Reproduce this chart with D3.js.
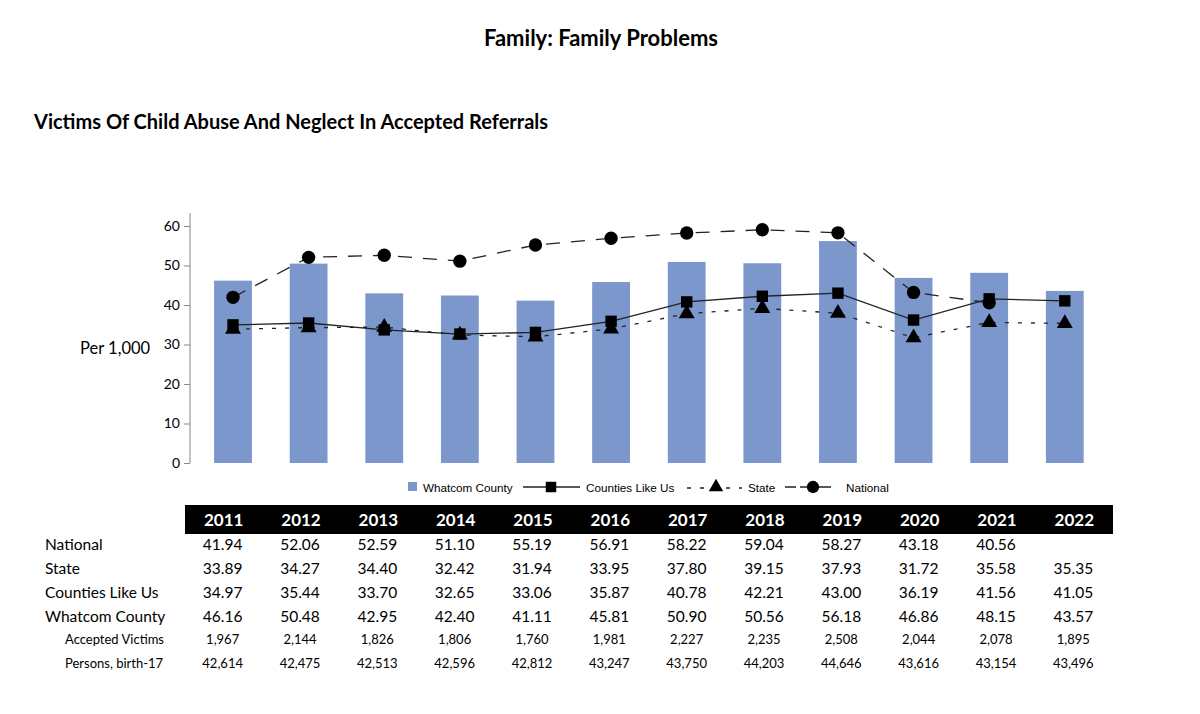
<!DOCTYPE html>
<html><head><meta charset="utf-8">
<script src="https://cdn.jsdelivr.net/npm/d3@7"></script>
<style>body{margin:0;background:#fff}svg{display:block}</style>
</head><body>
<svg id="c" width="1200" height="714"></svg>
<script>
const years = ["2011","2012","2013","2014","2015","2016","2017","2018","2019","2020","2021","2022"];
const national = [41.94,52.06,52.59,51.10,55.19,56.91,58.22,59.04,58.27,43.18,40.56,null];
const state = [33.89,34.27,34.40,32.42,31.94,33.95,37.80,39.15,37.93,31.72,35.58,35.35];
const counties = [34.97,35.44,33.70,32.65,33.06,35.87,40.78,42.21,43.00,36.19,41.56,41.05];
const whatcom = [46.16,50.48,42.95,42.40,41.11,45.81,50.90,50.56,56.18,46.86,48.15,43.57];
const accepted = ["1,967","2,144","1,826","1,806","1,760","1,981","2,227","2,235","2,508","2,044","2,078","1,895"];
const persons = ["42,614","42,475","42,513","42,596","42,812","43,247","43,750","44,203","44,646","43,616","43,154","43,496"];
const yTicks = [0,10,20,30,40,50,60];

const svg = d3.select("#c");
const font = "Lato, 'Open Sans', sans-serif";

svg.append("text").attr("x",601).attr("y",46).attr("text-anchor","middle")
  .attr("font-family",font).attr("font-weight","bold").attr("font-size",22).text("Family: Family Problems");
svg.append("text").attr("x",34).attr("y",129)
  .attr("font-family",font).attr("font-weight","bold").attr("font-size",20).text("Victims Of Child Abuse And Neglect In Accepted Referrals");

const x = d3.scaleBand().domain(years).range([195.2,1102.6]).paddingInner(0.5).paddingOuter(0.25);
const y = d3.scaleLinear().domain([0,60]).range([463,226]);

// bars
svg.append("g").selectAll("rect").data(years).join("rect")
  .attr("x",d=>x(d)).attr("width",x.bandwidth())
  .attr("y",(d,i)=>y(whatcom[i])).attr("height",(d,i)=>y(0)-y(whatcom[i]))
  .attr("fill","#7b97cc");

// y axis
const ax = svg.append("g").attr("transform","translate(190,0)")
  .call(d3.axisLeft(y).tickValues(yTicks).tickSize(6).tickSizeOuter(0).tickPadding(4));
ax.select(".domain").remove();
ax.append("line").attr("x1",0).attr("x2",0).attr("y1",213).attr("y2",463).attr("stroke","#888");
ax.selectAll(".tick line").attr("stroke","#888");
ax.selectAll(".tick text").attr("font-family",font).attr("font-size",14).attr("fill","#000");

svg.append("text").attr("x",80).attr("y",354).attr("font-family",font).attr("font-size",16.5).text("Per 1,000");

const cx = d=>x(d)+x.bandwidth()/2;
function series(vals, dash, sym, size){
  const pts = years.map((d,i)=>({d,v:vals[i]})).filter(p=>p.v!=null);
  const line = d3.line().x(p=>cx(p.d)).y(p=>y(p.v));
  svg.append("path").datum(pts).attr("d",line).attr("fill","none")
    .attr("stroke","#222").attr("stroke-width",1.3).attr("stroke-dasharray",dash);
  svg.append("g").selectAll("path").data(pts).join("path")
    .attr("transform",p=>`translate(${cx(p.d)},${y(p.v)})`)
    .attr("d",d3.symbol().type(sym).size(size)).attr("fill","#000");
}
series(state,"4,9",d3.symbolTriangle,110);
series(counties,null,d3.symbolSquare,130);
series(national,"14,11",d3.symbolCircle,140);

// legend
const lg = svg.append("g").attr("font-family","'Liberation Sans', Arial, sans-serif").attr("font-size",11.7);
lg.append("rect").attr("x",408).attr("y",482).attr("width",9).attr("height",9).attr("fill","#7b97cc");
lg.append("text").attr("x",423).attr("y",492).text("Whatcom County");
lg.append("line").attr("x1",523).attr("x2",580).attr("y1",487).attr("y2",487).attr("stroke","#222").attr("stroke-width",1.3);
lg.append("path").attr("transform","translate(551,487)").attr("d",d3.symbol().type(d3.symbolSquare).size(110)).attr("fill","#000");
lg.append("text").attr("x",586).attr("y",492).text("Counties Like Us");
lg.append("line").attr("x1",687).attr("x2",742).attr("y1",488).attr("y2",488).attr("stroke","#222").attr("stroke-width",1.3).attr("stroke-dasharray","4,9");
lg.append("path").attr("transform","translate(716,487)").attr("d",d3.symbol().type(d3.symbolTriangle).size(90)).attr("fill","#000");
lg.append("text").attr("x",748).attr("y",492).text("State");
lg.append("line").attr("x1",785).attr("x2",831).attr("y1",487).attr("y2",487).attr("stroke","#222").attr("stroke-width",1.3);
lg.append("path").attr("transform","translate(813,487)").attr("d",d3.symbol().type(d3.symbolCircle).size(120)).attr("fill","#000");
lg.append("rect").attr("x",796).attr("y",480).attr("width",4).attr("height",14).attr("fill","#fff");
lg.append("text").attr("x",846).attr("y",492).text("National");

// table
const tx = d3.scaleBand().domain(years).range([185,1113]);
const tcx = d=>tx(d)+tx.bandwidth()/2;
svg.append("rect").attr("x",185).attr("y",505).attr("width",928).attr("height",29).attr("fill","#000");
svg.append("g").selectAll("text").data(years).join("text")
  .attr("x",tcx).attr("y",526).attr("text-anchor","middle").attr("fill","#fff")
  .attr("font-family",font).attr("font-weight","bold").attr("font-size",17).text(d=>d);

const rows = [
  {label:"National", vals:national.map(v=>v==null?"":v.toFixed(2)), y:550, small:false},
  {label:"State", vals:state.map(v=>v.toFixed(2)), y:574, small:false},
  {label:"Counties Like Us", vals:counties.map(v=>v.toFixed(2)), y:598, small:false},
  {label:"Whatcom County", vals:whatcom.map(v=>v.toFixed(2)), y:622, small:false},
  {label:"Accepted Victims", vals:accepted, y:644, small:true},
  {label:"Persons, birth-17", vals:persons, y:668, small:true}
];
rows.forEach(r=>{
  const fs = r.small?13:15.5;
  svg.append("text").attr("x",r.small?65:45).attr("y",r.y).attr("font-family",font).attr("font-size",fs).text(r.label);
  svg.append("g").selectAll("text").data(years).join("text")
    .attr("x",d=>tcx(d)-1).attr("y",r.y).attr("text-anchor","middle")
    .attr("font-family",font).attr("font-size",fs).text((d,i)=>r.vals[i]);
});
</script>
</body></html>
